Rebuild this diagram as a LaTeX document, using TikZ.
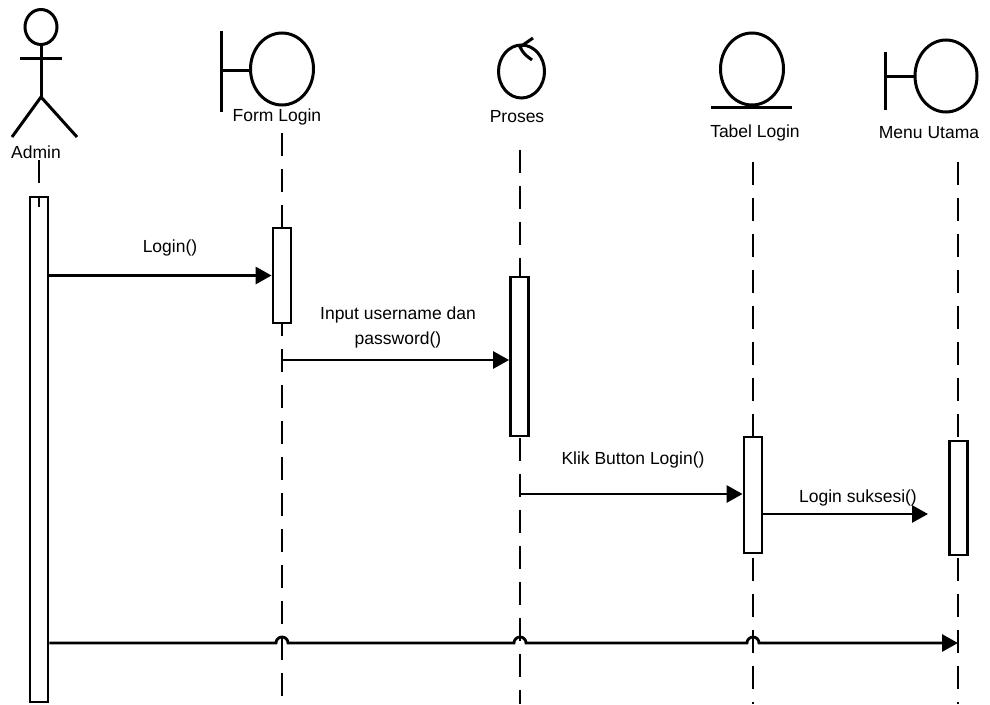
\documentclass[tikz,border=0pt]{standalone}
\usepackage{fontspec}
\setmainfont{Liberation Sans}
\usetikzlibrary{arrows.meta}
\tikzset{
  lbl/.style={font=\fontsize{17.5}{25}\selectfont, inner sep=0pt},
  life/.style={line width=2.8pt, dash pattern=on 23pt off 13pt},
  actbox/.style={draw, fill=white, line width=2.8pt, minimum width=18pt, inner sep=0pt},
  msg/.style={line width=2.8pt, -{Triangle[length=16pt,width=17pt]}},
}
\begin{document}
\begin{tikzpicture}[x=1pt,y=-1pt,line width=3pt]
      \useasboundingbox (0,0) rectangle (990,704);
      % actor Admin
      \draw (41,27) ellipse (16 and 17.5);
      \draw (20,58) -- (62,58); \draw (41,45) -- (41,97);
      \draw (12,137) -- (41,97) -- (77,137);
      \node[lbl] (adminlbl) at (36,152) {Admin};
      % boundary Form Login
      \draw (221,31) -- (221,112); \draw (221,70) -- (250.5,70);
      \draw (282,69) ellipse (31.5 and 36);
      \node[lbl] (formlbl) at (277,117) {Form Login};
      % control Proses
      \draw (521.5,71.5) ellipse (23 and 26.5);
      \draw (533,38) -- (520,47) .. controls (524,54) .. (532,60);
      \node[lbl] (proseslbl) at (517,117) {Proses};
      % entity Tabel Login
      \draw (752,69) ellipse (31.5 and 36);
      \draw (711,107) -- (792,107);
      \node[lbl] (tabellbl) at (755,133) {Tabel Login};
      % boundary Menu Utama
      \draw (885,52) -- (885,110); \draw (885,76) -- (915,76);
      \draw (946,76) ellipse (31 and 36);
      \node[lbl] (menulbl) at (929,133) {Menu Utama};
      % lifelines
      \coordinate (admintop) at (39,160); \coordinate (adminbot) at (39,184);
      \coordinate (formtop) at (282,133); \coordinate (formbot) at (282,704);
      \coordinate (prosestop) at (520,150); \coordinate (prosesbot) at (520,704);
      \coordinate (tabeltop) at (753,162); \coordinate (tabelbot) at (753,704);
      \coordinate (menutop) at (958,162); \coordinate (menubot) at (958,704);
      \draw[life] (admintop) -- (adminbot);
      \draw[life] (formtop) -- (formbot);
      \draw[life] (prosestop) -- (prosesbot);
      \draw[life] (tabeltop) -- (tabelbot);
      \draw[life] (menutop) -- (menubot);
      % activation boxes
      \node[actbox, minimum height=505pt] (adminact) at (39,449.5) {};
      \draw[line width=2.5pt] (adminact.north) -- ++(0,11);
      \node[actbox, minimum height=95pt] (formact) at (282,275.5) {};
      \node[actbox, minimum height=159pt] (prosesact) at (519.5,356.5) {};
      \node[actbox, minimum height=116pt] (tabelact) at (753,495) {};
      \node[actbox, minimum height=114pt] (menuact) at (958.5,498) {};
      % messages
      \draw[msg] (adminact.east |- formact) -- (formact.west);
      \node[lbl] (m1lbl) at (170,248) {Login()};
      \coordinate (m2) at (282,360);
      \draw[msg] (m2) -- (m2 -| prosesact.west);
      \node[lbl, align=center] (m2lbl) at (398,327) {Input username dan\\password()};
      \coordinate (m3) at (520,494);
      \draw[msg] (m3) -- (m3 -| tabelact.west);
      \node[lbl] (m3lbl) at (633,460) {Klik Button Login()};
      \coordinate (m4end) at (928,514);
      \draw[msg] (tabelact.east |- m4end) -- (m4end);
      \node[lbl] (m4lbl) at (858,498) {Login suksesi()};
      \coordinate (m5end) at (958,643);
      \draw[msg] (adminact.east |- m5end) -- (276,643) arc (180:360:6)
        -- (514,643) arc (180:360:6) -- (747,643) arc (180:360:6) -- (m5end);
\end{tikzpicture}
\end{document}
